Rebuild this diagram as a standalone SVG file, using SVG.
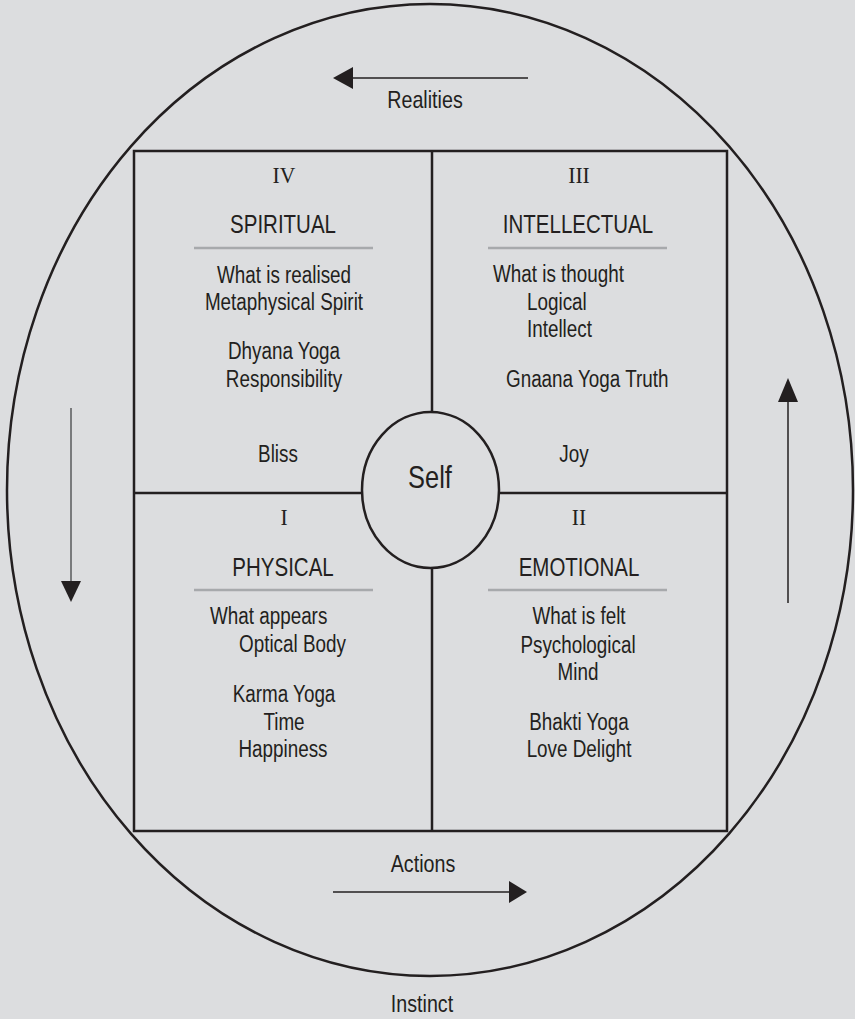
<svg xmlns="http://www.w3.org/2000/svg" width="855" height="1019" viewBox="0 0 855 1019">
<style>
.t{font-family:'Liberation Sans',Arial,sans-serif;font-size:23px;fill:#231f20}
.h{font-size:25px}
.b{font-size:24px}
.n{font-family:'Liberation Serif',serif;font-size:24px;fill:#231f20}
.c{text-anchor:middle}
.ln{stroke:#231f20;stroke-width:2.5;fill:none}
.dv{stroke:#a7a9ac;stroke-width:2.5}
.ar{stroke:#231f20;stroke-width:1.5}
.hd{fill:#231f20}
</style>
<rect width="855" height="1019" fill="#dcdddf"/>
<g id="outer">
<ellipse cx="430" cy="490" rx="423" ry="486" class="ln"/>
</g>
<g id="connectors">
<line x1="352" y1="78" x2="528" y2="78" class="ar"/>
<polygon points="333,78 353,67 353,89" class="hd"/>
<line x1="333" y1="892" x2="510" y2="892" class="ar"/>
<polygon points="527,892 509,881 509,903" class="hd"/>
<line x1="71" y1="408" x2="71" y2="582" class="ar" style="stroke:#58595b"/>
<polygon points="71,602 61,581 81,581" class="hd"/>
<line x1="788" y1="401" x2="788" y2="603" class="ar"/>
<polygon points="788,378 778,402 798,402" class="hd"/>
</g>
<g id="labels">
<text transform="translate(425,108) scale(.82,1)" class="t b c">Realities</text>
<text transform="translate(423,872) scale(.82,1)" class="t b c">Actions</text>
<text transform="translate(422,1012) scale(.82,1)" class="t b c">Instinct</text>
</g>
<g id="grid">
<rect x="134" y="151" width="593" height="680" class="ln"/>
<line x1="432" y1="151" x2="432" y2="831" class="ln"/>
<line x1="134" y1="493" x2="727" y2="493" class="ln"/>
</g>
<g id="quadrant-IV">
<text transform="translate(284,183) scale(.9,1)" class="n c">IV</text>
<text transform="translate(283,233) scale(.82,1)" class="t h c">SPIRITUAL</text>
<line x1="194" y1="248" x2="373" y2="248" class="dv"/>
<text transform="translate(284,283) scale(.82,1)" class="t c">What is realised</text>
<text transform="translate(284,310) scale(.82,1)" class="t c">Metaphysical Spirit</text>
<text transform="translate(284,359) scale(.82,1)" class="t c">Dhyana Yoga</text>
<text transform="translate(284,387) scale(.82,1)" class="t c">Responsibility</text>
<text transform="translate(278,462) scale(.82,1)" class="t c">Bliss</text>
</g>
<g id="quadrant-III">
<text transform="translate(579,183) scale(.9,1)" class="n c">III</text>
<text transform="translate(578,233) scale(.82,1)" class="t h c">INTELLECTUAL</text>
<line x1="488" y1="248" x2="667" y2="248" class="dv"/>
<text transform="translate(493,282) scale(.82,1)" class="t">What is thought</text>
<text transform="translate(527,310) scale(.82,1)" class="t">Logical</text>
<text transform="translate(527,337) scale(.82,1)" class="t">Intellect</text>
<text transform="translate(506,387) scale(.82,1)" class="t">Gnaana Yoga Truth</text>
<text transform="translate(574,462) scale(.82,1)" class="t c">Joy</text>
</g>
<g id="quadrant-I">
<text transform="translate(284,525) scale(.9,1)" class="n c">I</text>
<text transform="translate(283,576) scale(.82,1)" class="t h c">PHYSICAL</text>
<line x1="194" y1="590" x2="373" y2="590" class="dv"/>
<text transform="translate(210,624) scale(.82,1)" class="t">What appears</text>
<text transform="translate(239,652) scale(.82,1)" class="t">Optical Body</text>
<text transform="translate(284,702) scale(.82,1)" class="t c">Karma Yoga</text>
<text transform="translate(284,730) scale(.82,1)" class="t c">Time</text>
<text transform="translate(283,757) scale(.82,1)" class="t c">Happiness</text>
</g>
<g id="quadrant-II">
<text transform="translate(579,525) scale(.9,1)" class="n c">II</text>
<text transform="translate(579,576) scale(.82,1)" class="t h c">EMOTIONAL</text>
<line x1="488" y1="590" x2="667" y2="590" class="dv"/>
<text transform="translate(579,624) scale(.82,1)" class="t c">What is felt</text>
<text transform="translate(578,653) scale(.82,1)" class="t c">Psychological</text>
<text transform="translate(578,680) scale(.82,1)" class="t c">Mind</text>
<text transform="translate(579,730) scale(.82,1)" class="t c">Bhakti Yoga</text>
<text transform="translate(579,757) scale(.82,1)" class="t c">Love Delight</text>
</g>
<g id="self">
<ellipse cx="430.5" cy="490" rx="68.5" ry="78" class="ln" style="fill:#dcdddf"/>
<text transform="translate(430,488) scale(.82,1)" class="t c" style="font-size:31px">Self</text>
</g>
</svg>
